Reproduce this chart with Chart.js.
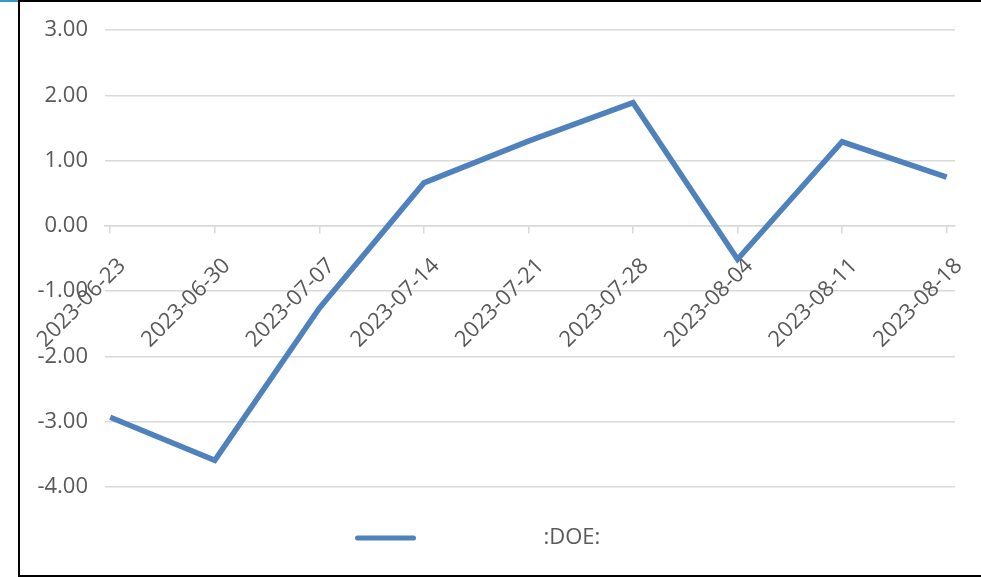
<!DOCTYPE html>
<html>
<head>
<meta charset="utf-8">
<script src="https://cdn.jsdelivr.net/npm/chart.js@4/dist/chart.umd.min.js"></script>
<style>
  html, body { margin: 0; padding: 0; background: #fff; }
  #wrap { position: relative; width: 981px; height: 577px; overflow: hidden; }
  #frame {
    position: absolute; left: 18px; top: 0; width: 981px; height: 577px;
    border-left: 2px solid #000; border-top: 2px solid #000; border-bottom: 2px solid #000;
    box-sizing: border-box; pointer-events: none;
  }
  #strip { position: absolute; left: 0; top: 0; width: 18px; height: 2px; background: #2e9bc0; }
</style>
</head>
<body>
<div id="wrap">
  <canvas id="chart" width="981" height="577"></canvas>
  <div id="frame"></div>
  <div id="strip"></div>
</div>
<script>
// ── Data ────────────────────────────────────────────────────────────────
const categories = [
  "2023-06-23", "2023-06-30", "2023-07-07", "2023-07-14", "2023-07-21",
  "2023-07-28", "2023-08-04", "2023-08-11", "2023-08-18"
];
const doeValues = [-2.93, -3.59, -1.26, 0.66, 1.30, 1.89, -0.51, 1.29, 0.75];
const seriesName = ":DOE:";
const yTicks = [-4, -3, -2, -1, 0, 1, 2, 3];

const LINE_COLOR = "#4f81bd";
const TEXT_COLOR = "#595959";
const GRID_COLOR = "#d9d9d9";
const FONT = { family: "'Open Sans', sans-serif", size: 22 };

// ── Legend (drawn below the plot, Excel style) ──────────────────────────
const legendPlugin = {
  id: "excelLegend",
  afterDraw(chart) {
    const ctx = chart.ctx;
    const y = chart.height - 39;
    const x0 = chart.width / 2 - 133;
    ctx.save();
    ctx.strokeStyle = LINE_COLOR;
    ctx.lineWidth = 5;
    ctx.lineCap = "round";
    ctx.beginPath();
    ctx.moveTo(x0, y);
    ctx.lineTo(x0 + 56, y);
    ctx.stroke();
    ctx.fillStyle = TEXT_COLOR;
    ctx.font = `${FONT.size}px ${FONT.family}`;
    ctx.textBaseline = "middle";
    ctx.textAlign = "left";
    ctx.fillText(seriesName, x0 + 186, y);
    ctx.restore();
  },
};

new Chart(document.getElementById("chart"), {
  type: "line",
  data: {
    datasets: [
      {
        label: seriesName,
        data: doeValues.map((v, i) => ({ x: i, y: v })),
        borderColor: LINE_COLOR,
        backgroundColor: LINE_COLOR,
        borderWidth: 5.5,
        borderJoinStyle: "miter",
        pointRadius: 0,
        tension: 0,
        fill: false,
      },
    ],
  },
  options: {
    responsive: false,
    animation: false,
    layout: { padding: { left: 0, top: 30, right: 26, bottom: 90 } },
    plugins: { legend: { display: false }, tooltip: { enabled: false } },
    scales: {
      x: {
        type: "linear",
        position: { y: 0 },
        min: -0.05,
        max: 8.08,
        afterBuildTicks: (s) => { s.ticks = categories.map((c, i) => ({ value: i })); },
        // rotated labels fit inside the frame; don't let them shrink the plot
        afterFit: (s) => { s.paddingLeft = 0; s.paddingRight = 0; },
        grid: { drawOnChartArea: false, drawTicks: true, tickLength: 7, color: GRID_COLOR, lineWidth: 1.5 },
        border: { display: true, color: GRID_COLOR, width: 1.5 },
        ticks: {
          autoSkip: false,
          minRotation: 45,
          maxRotation: 45,
          padding: 20,
          labelOffset: 12,
          color: TEXT_COLOR,
          font: FONT,
          callback: (v) => categories[v] ?? "",
        },
      },
      y: {
        min: yTicks[0],
        max: yTicks[yTicks.length - 1],
        afterFit: (s) => { s.width = 105; },
        afterBuildTicks: (s) => { s.ticks = yTicks.map((v) => ({ value: v })); },
        grid: { color: GRID_COLOR, lineWidth: 1.5, drawTicks: false },
        border: { display: false },
        ticks: {
          padding: 17,
          color: TEXT_COLOR,
          font: FONT,
          callback: (v) => Number(v).toFixed(2),
        },
      },
    },
  },
  plugins: [legendPlugin],
});
</script>
</body>
</html>
